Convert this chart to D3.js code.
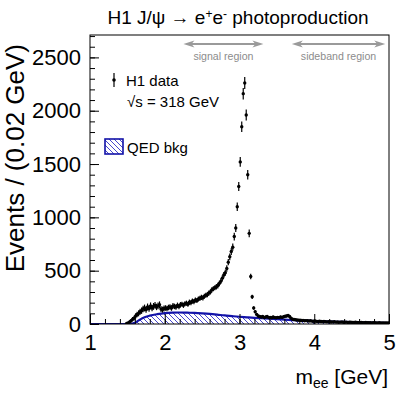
<!DOCTYPE html>
<html><head><meta charset="utf-8">
<script src="https://cdn.jsdelivr.net/npm/d3@7"></script>
<style>body{margin:0;background:#fff} svg{display:block;font-family:"Liberation Sans",Arial,Helvetica,sans-serif}</style>
</head><body>
<svg id="c" width="409" height="396"></svg>
<script>
// ---- data ----
const firstBinCenter = 1.49, binWidth = 0.02;
const counts = [
 5,10,20,30,45,55,
 75,90,100,115,125,140,150,135,160,145,170,150,165,175,160,170,180,140,135,145,
 150,145,155,160,150,170,165,160,175,165,180,185,175,190,195,185,205,200,215,210,
 225,220,235,240,250,245,260,270,275,290,300,320,330,340,350,360,380,400,430,460,
 480,520,580,630,680,720,820,900,1100,1290,
 1520,1850,2160,2260,1960,1400,850,445,255,150,
 115,90,75,70,65,70,60,65,70,60,
 62,58,65,60,58,62,60,65,62,68,
 72,75,80,70,55,45,42,40,38,36,
 35,33,34,30,32,30,28,30,27,26,
 28,25,24,26,23,22,24,22,20,22,21,19,20,21,18,19,17,18,19,16,
 17,18,15,16,17,15,14,16,15,13,14,15,13,12,14,13,12,13,11,12,
 13,11,10,12,11,10,11,10,9,10
];
const errors = [
 8,10,14,16,20,22,
 25,26,28,28,30,30,32,30,32,30,32,30,32,32,30,32,32,28,28,28,
 26,26,26,26,26,26,26,26,26,26,26,24,24,24,24,24,24,24,24,24,
 24,24,24,24,24,24,24,24,24,24,24,24,24,24,26,26,26,26,26,28,
 28,30,30,32,32,34,36,38,40,42,
 46,50,54,56,52,44,36,26,20,16,
 14,12,12,12,12,12,12,12,12,12,
 12,12,12,12,12,12,12,12,12,12,
 12,12,12,12,10,10,10,10,10,10,
 10,10,10,10,10,10,10,10,10,10,
 8,8,8,8,8,8,8,8,8,8,8,8,8,8,8,8,8,8,8,8,
 8,8,8,8,8,8,8,8,8,8,8,8,8,8,8,8,8,8,8,8,
 8,8,8,8,8,8,8,8,8,8
];
const qedMass   = [1.0,1.1,1.2,1.3,1.4,1.5,1.55,1.6,1.7,1.8,1.9,2.0,2.1,2.2,2.3,2.4,2.5,2.6,2.7,2.8,2.9,3.0,3.1,3.2,3.3,3.4,3.5,3.6,3.7,3.8,3.9,4.0,4.1,4.2,4.3,4.4,4.5,4.6,4.7,4.8,4.9,5.0];
const qedValues = [0,0,0,0,0,0,0,12,55,78,92,102,107,108,106,104,100,95,88,80,74,68,63,58,54,50,45,41,37,34,31,28,25,23,21,19,17,16,14,12,11,9];
const xMajorTicks = [1,2,3,4,5];
const yMajorTicks = [0,500,1000,1500,2000,2500];
const regionLabels = ["signal region","sideband region"];
const regionFrom = [2.25, 3.70];
const regionTo   = [3.32, 4.95];

// ---- layout ----
const svg = d3.select("#c");
const L = 90, R = 389, T = 35, B = 324;
const x = d3.scaleLinear().domain([1,5]).range([L,R]);
const y = d3.scaleLinear().domain([0,2710]).range([B,T]);
const blue = "#1212a8";

const defs = svg.append("defs");
const pat = defs.append("pattern").attr("id","hatch").attr("patternUnits","userSpaceOnUse")
  .attr("width",5).attr("height",5);
pat.append("path").attr("d","M0,0L5,5M-1,4L1,6M4,-1L6,1")
  .attr("stroke","#3232c8").attr("stroke-width",0.9).attr("fill","none");
defs.append("clipPath").attr("id","clip").append("rect")
  .attr("x",L).attr("y",T).attr("width",R-L).attr("height",B-T);

// QED background
const qed = qedMass.map((m,i)=>({m, v:qedValues[i]}));
const g = svg.append("g").attr("clip-path","url(#clip)");
g.append("path").datum(qed)
  .attr("d", d3.area().x(d=>x(d.m)).y0(y(0)).y1(d=>y(d.v)).curve(d3.curveMonotoneX))
  .attr("fill","url(#hatch)");
g.append("path").datum(qed)
  .attr("d", d3.line().x(d=>x(d.m)).y(d=>y(d.v)).curve(d3.curveMonotoneX))
  .attr("fill","none").attr("stroke",blue).attr("stroke-width",2.2);

// axes (inward ticks)
const xMinor = d3.range(1,5.0001,0.2);
svg.append("g").attr("transform",`translate(0,${B})`)
  .call(d3.axisBottom(x).tickValues(xMinor).tickSize(-5).tickFormat(""))
  .call(a=>a.select(".domain").remove());
svg.append("g").attr("transform",`translate(0,${B})`)
  .call(d3.axisBottom(x).tickValues(xMajorTicks).tickSize(-10).tickPadding(10).tickFormat(d3.format("d")))
  .call(a=>a.select(".domain").remove())
  .call(a=>a.selectAll("text").attr("font-size",22).attr("fill","#000").attr("font-family","Liberation Sans, Arial, sans-serif"));
const yMinor = d3.range(0,2701,100);
svg.append("g").attr("transform",`translate(${L},0)`)
  .call(d3.axisLeft(y).tickValues(yMinor).tickSize(-5).tickFormat(""))
  .call(a=>a.select(".domain").remove());
svg.append("g").attr("transform",`translate(${L},0)`)
  .call(d3.axisLeft(y).tickValues(yMajorTicks).tickSize(-9).tickPadding(9).tickFormat(d3.format("d")))
  .call(a=>a.select(".domain").remove())
  .call(a=>a.selectAll("text").attr("font-size",22).attr("fill","#000").attr("font-family","Liberation Sans, Arial, sans-serif"));

// data points
const data = counts.map((c,i)=>({m: firstBinCenter + i*binWidth, v:c, e:errors[i]}));
const dg = svg.append("g").attr("clip-path","url(#clip)");
dg.selectAll("line.err").data(data).join("line")
  .attr("x1",d=>x(d.m)).attr("x2",d=>x(d.m))
  .attr("y1",d=>y(Math.max(0,d.v-d.e))).attr("y2",d=>y(d.v+d.e))
  .attr("stroke","#000").attr("stroke-width",1.2);
dg.selectAll("circle").data(data).join("circle")
  .attr("cx",d=>x(d.m)).attr("cy",d=>y(d.v)).attr("r",1.7).attr("fill","#000");

// frame
svg.append("rect").attr("x",L).attr("y",T).attr("width",R-L).attr("height",B-T)
  .attr("fill","none").attr("stroke","#000").attr("stroke-width",1);

// region arrows
const gray = "#9a9a9a";
regionLabels.forEach((lab,i)=>{
  const x1 = x(regionFrom[i]), x2 = x(regionTo[i]), yy = 44;
  svg.append("line").attr("x1",x1+6).attr("x2",x2-6).attr("y1",yy).attr("y2",yy)
    .attr("stroke",gray).attr("stroke-width",2);
  svg.append("path").attr("d",`M${x1},${yy}L${x1+11},${yy-3.5}L${x1+8},${yy}L${x1+11},${yy+3.5}Z`).attr("fill",gray);
  svg.append("path").attr("d",`M${x2},${yy}L${x2-11},${yy-3.5}L${x2-8},${yy}L${x2-11},${yy+3.5}Z`).attr("fill",gray);
  svg.append("text").attr("x",(x1+x2)/2).attr("y",60).attr("text-anchor","middle")
    .attr("font-size",10.6).attr("fill","#8c8c8c").text(lab);
});

// legend
svg.append("line").attr("x1",114).attr("x2",114).attr("y1",73).attr("y2",87).attr("stroke","#000").attr("stroke-width",1.2);
svg.append("circle").attr("cx",114).attr("cy",80).attr("r",1.8).attr("fill","#000");
svg.append("text").attr("x",126).attr("y",86).attr("font-size",15).text("H1 data");
svg.append("text").attr("x",127).attr("y",107).attr("font-size",15).text("√s = 318 GeV");
svg.append("rect").attr("x",105).attr("y",139).attr("width",18).attr("height",15)
  .attr("fill","url(#hatch)").attr("stroke",blue).attr("stroke-width",1.6);
svg.append("text").attr("x",127).attr("y",153).attr("font-size",15).text("QED bkg");

// titles
const title = svg.append("text").attr("x",238).attr("y",24).attr("text-anchor","middle").attr("font-size",19);
title.append("tspan").text("H1 J/ψ → e");
title.append("tspan").attr("font-size",12).attr("dy",-6).text("+");
title.append("tspan").attr("dy",6).text("e");
title.append("tspan").attr("font-size",12).attr("dy",-6).text("-");
title.append("tspan").attr("dy",6).text(" photoproduction");

const xt = svg.append("text").attr("x",388).attr("y",384).attr("text-anchor","end").attr("font-size",21);
xt.append("tspan").text("m");
xt.append("tspan").attr("font-size",14).attr("dy",4).text("ee");
xt.append("tspan").attr("dy",-4).text(" [GeV]");

svg.append("text").attr("transform","translate(24,44) rotate(-90)").attr("text-anchor","end")
  .attr("font-size",26).text("Events / (0.02 GeV)");
</script>
</body></html>
